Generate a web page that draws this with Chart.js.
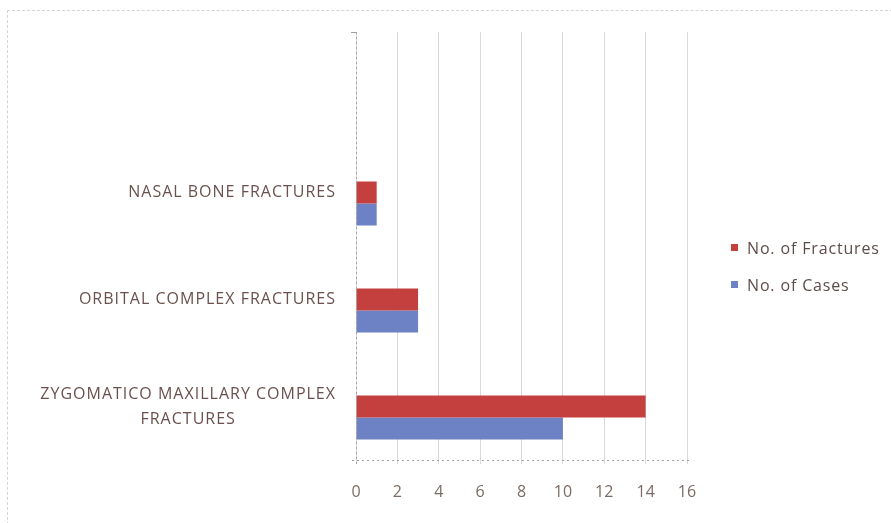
<!DOCTYPE html>
<html>
<head>
<meta charset="utf-8">
<script src="https://cdn.jsdelivr.net/npm/chart.js@4/dist/chart.umd.min.js"></script>
<style>
  html, body { margin: 0; padding: 0; background: #fff; }
  #wrap { position: relative; width: 891px; height: 523px; overflow: hidden; }
  #frame { position: absolute; left: 7px; top: 10px; right: -2px; bottom: -2px;
           border-top: 1px dashed #d4d4d4; border-left: 1px dashed #d4d4d4; }
  #chart { position: absolute; left: 0; top: 0; }
  #legend { position: absolute; left: 731px; top: 237px; margin: 0; padding: 0; list-style: none;
            font-family: "Open Sans", sans-serif; font-size: 16px; color: #5e4c4a; letter-spacing: 0.85px; }
  #legend li { height: 37px; line-height: 22px; white-space: nowrap; }
  #legend span.box { display: inline-block; width: 7px; height: 7px; margin-right: 9px; vertical-align: 3px; }
</style>
</head>
<body>
<div id="wrap">
  <div id="frame"></div>
  <canvas id="chart" width="891" height="523"></canvas>
  <ul id="legend"></ul>
</div>
<script>
// Categories, top to bottom (the first row is an empty slot in the sheet)
const categories = [
  '',
  'NASAL BONE FRACTURES',
  'ORBITAL COMPLEX FRACTURES',
  ['ZYGOMATICO MAXILLARY COMPLEX', 'FRACTURES']
];
// Series values
const fractures = [null, 1, 3, 14];
const cases = [null, 1, 3, 10];
// Empty third column of the sheet (keeps its slot in each bar group)
const emptyColumn = [null, null, null, null];
// Value axis tick labels
const xTickLabels = [0, 2, 4, 6, 8, 10, 12, 14, 16];

const RED = '#c4403e';
const BLUE = '#6d82c4';
const LABEL_FONT = '16px "Open Sans", sans-serif';
const LABEL_COLOR = '#6a514d';

// Draws the category names left of the axis; wrapped names are centred as a block
const categoryLabels = {
  id: 'categoryLabels',
  afterDraw(chart) {
    const ys = chart.scales.y;
    const ctx = chart.ctx;
    ctx.save();
    ctx.font = LABEL_FONT;
    ctx.letterSpacing = '1px';
    ctx.fillStyle = LABEL_COLOR;
    ctx.textAlign = 'center';
    ctx.textBaseline = 'middle';
    const right = ys.right - 20;
    const lineH = 25;
    categories.forEach((lab, i) => {
      const lines = Array.isArray(lab) ? lab : [lab];
      if (!lines[0]) return;
      const widest = Math.max(...lines.map(l => ctx.measureText(l).width));
      const cy = ys.getPixelForTick(i);
      const y0 = cy - (lines.length - 1) * lineH / 2;
      lines.forEach((l, k) => ctx.fillText(l, right - widest / 2, y0 + k * lineH));
    });
    ctx.restore();
  }
};

// Dotted axis lines along the left and bottom of the plot area
const axisLines = {
  id: 'axisLines',
  afterDatasetsDraw(chart) {
    const { ctx, chartArea: a } = chart;
    ctx.save();
    ctx.strokeStyle = '#a0a0a0';
    ctx.lineWidth = 1;
    ctx.setLineDash([2, 3]);
    ctx.beginPath();
    ctx.moveTo(a.left + 0.5, a.top);
    ctx.lineTo(a.left + 0.5, a.bottom + 4);
    ctx.moveTo(a.left - 4, a.bottom + 0.5);
    ctx.lineTo(a.right + 4, a.bottom + 0.5);
    ctx.stroke();
    ctx.setLineDash([]);
    ctx.beginPath();
    ctx.moveTo(a.left - 5, a.top + 0.5);
    ctx.lineTo(a.left, a.top + 0.5);
    ctx.stroke();
    ctx.restore();
  }
};

const chart = new Chart(document.getElementById('chart'), {
  type: 'bar',
  data: {
    labels: categories,
    datasets: [
      { label: '', data: emptyColumn, backgroundColor: 'rgba(0,0,0,0)', inLegend: false },
      { label: 'No. of Fractures', data: fractures, backgroundColor: RED, inLegend: true },
      { label: 'No. of Cases', data: cases, backgroundColor: BLUE, inLegend: true }
    ]
  },
  options: {
    indexAxis: 'y',
    responsive: false,
    animation: false,
    layout: { padding: { left: 0, top: 32, right: 204, bottom: 0 } },
    datasets: { bar: { categoryPercentage: 0.617, barPercentage: 1, borderWidth: 0 } },
    plugins: { legend: { display: false }, tooltip: { enabled: false } },
    scales: {
      x: {
        min: 0, max: 16,
        afterBuildTicks(scale) { scale.ticks = xTickLabels.map(v => ({ value: v })); },
        afterFit(scale) { scale.height = 63; },
        grid: { color: '#d9d9d9', lineWidth: 1, drawTicks: true, tickLength: 4, tickColor: '#d9d9d9' },
        border: { display: false },
        ticks: { padding: 19, color: '#7a6c64', font: { family: '"Open Sans", sans-serif', size: 16 } }
      },
      y: {
        offset: true,
        afterFit(scale) { scale.width = 356; },
        grid: { display: false },
        border: { display: false },
        ticks: { display: false }
      }
    }
  },
  plugins: [categoryLabels, axisLines]
});

// Legend built from the chart's own datasets
const legend = document.getElementById('legend');
chart.data.datasets.filter(d => d.inLegend).forEach(d => {
  const li = document.createElement('li');
  const box = document.createElement('span');
  box.className = 'box';
  box.style.background = d.backgroundColor;
  li.appendChild(box);
  li.appendChild(document.createTextNode(d.label));
  legend.appendChild(li);
});
</script>
</body>
</html>
